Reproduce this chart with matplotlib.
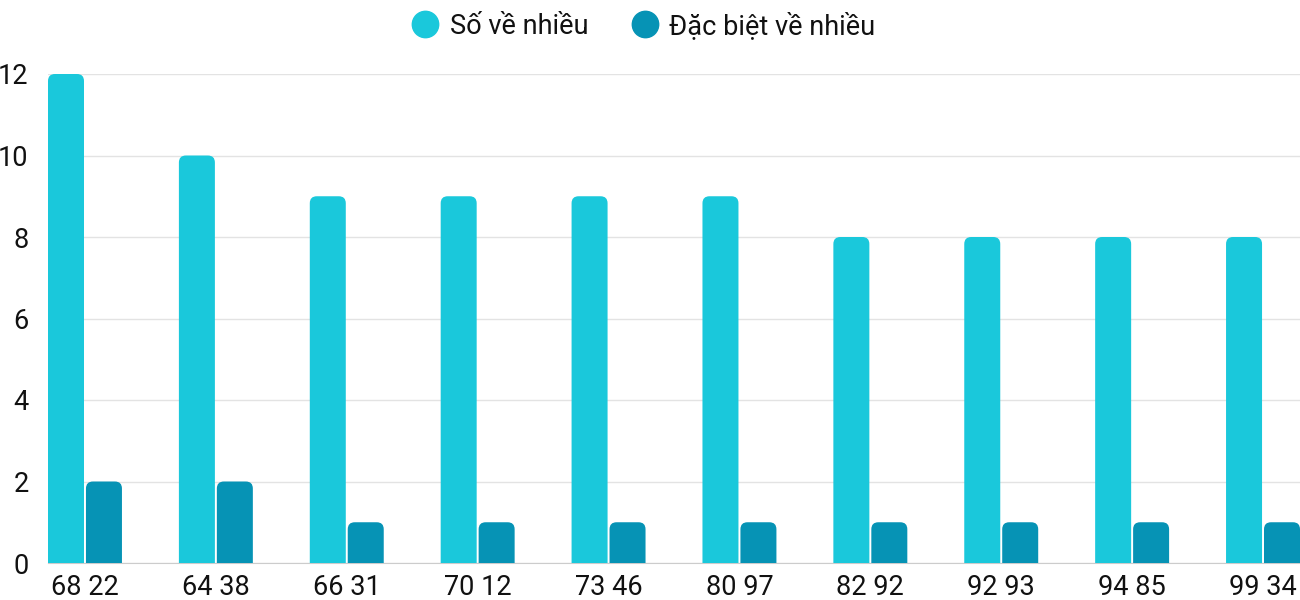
import matplotlib
matplotlib.use('Agg')
import matplotlib.pyplot as plt
from matplotlib.patches import FancyBboxPatch
from matplotlib.lines import Line2D
import numpy as np

plt.rcParams['font.family'] = ['Roboto', 'DejaVu Sans']

categories = ['68 22', '64 38', '66 31', '70 12', '73 46',
              '80 97', '82 92', '92 93', '94 85', '99 34']
so_ve_nhieu = [12, 10, 9, 9, 9, 9, 8, 8, 8, 8]
dac_biet_ve_nhieu = [2, 2, 1, 1, 1, 1, 1, 1, 1, 1]
series_names = ['Số về nhiều', 'Đặc biệt về nhiều']
colors = ['#1ac8db', '#0693b5']

fig = plt.figure(figsize=(13, 6), dpi=100)
ax = fig.add_axes([48 / 1300, 1 - 563 / 600, 1 - 48 / 1300, (563 - 74) / 600])

x = np.arange(len(categories))
w = 0.275
off = 0.145
bars1 = ax.bar(x - off, so_ve_nhieu, w, color=colors[0])
bars2 = ax.bar(x + off, dac_biet_ve_nhieu, w, color=colors[1])

ax.set_xlim(-off - w / 2, len(categories) - 1 + off + w / 2)
ax.set_ylim(0, 12)

# swap plain bars for rounded-top ones
px_x = 131.0
px_y = (563 - 74) / 12
r = 7 / px_x
for bars in (bars1, bars2):
    for b in bars:
        b.set_visible(False)
        p = FancyBboxPatch((b.get_x(), -0.5), b.get_width(), b.get_height() + 0.5,
                           boxstyle='round,pad=0,rounding_size=%f' % r,
                           mutation_aspect=px_x / px_y,
                           facecolor=b.get_facecolor(), edgecolor='none',
                           clip_on=True, zorder=3)
        ax.add_patch(p)

ax.set_yticks([0, 2, 4, 6, 8, 10, 12])
ax.yaxis.grid(True, color='#e3e3e3', linewidth=1)
ax.set_axisbelow(True)
ax.set_xticks(x)
ax.set_xticklabels(categories)
ax.tick_params(axis='both', length=0, labelsize=19.5, colors='#111111')
ax.tick_params(axis='y', pad=14)
ax.tick_params(axis='x', pad=8)
for s in ['top', 'right', 'left']:
    ax.spines[s].set_visible(False)
ax.spines['bottom'].set_color('#cccccc')

handles = [Line2D([], [], marker='o', linestyle='none', markersize=19,
                  markerfacecolor=c, markeredgecolor=c) for c in colors]
fig.legend(handles, series_names, loc='center', bbox_to_anchor=(0.495, 1 - 26 / 600),
           ncol=2, frameon=False, fontsize=19.5, handlelength=1.0, handletextpad=0.4,
           columnspacing=1.6, labelcolor='#111111')

fig.savefig('out.png', dpi=100)
